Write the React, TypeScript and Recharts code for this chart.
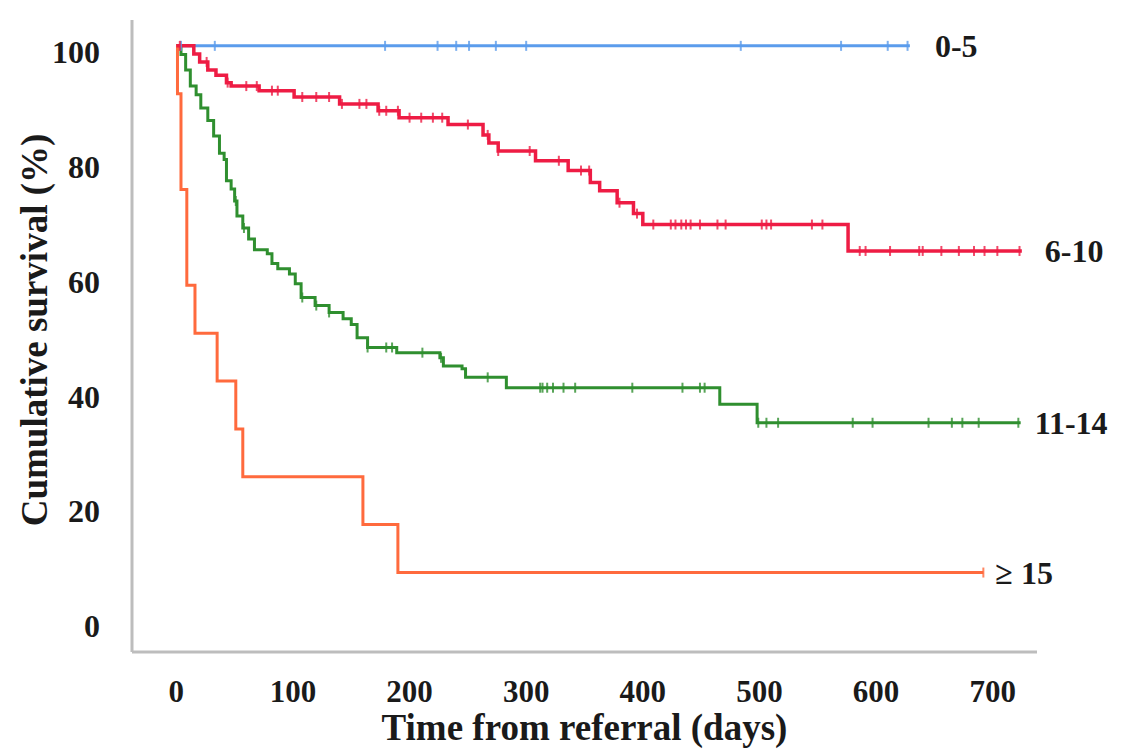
import { ComposedChart, Line, Scatter, XAxis, YAxis } from "recharts";

// Kaplan-Meier steps: [day, survival %]
const groupNames = ["0-5", "6-10", "11-14", "\u2265 15"];

const blueSteps: number[][] = [
  [0, 100],
  [629, 100],
];
const blueCensored = [4, 33, 179, 224, 240, 251, 274, 300, 484, 570, 610, 627];

const redSteps: number[][] = [
  [0, 100], [15, 98.6], [20, 97.2], [27, 95.8], [34, 94.9], [43, 93.6],
  [47, 93.0], [71, 92.2], [101, 91.1], [140, 89.9], [173, 88.7], [191, 87.5],
  [233, 86.3], [263, 84.5], [268, 83.1], [276, 81.7], [308, 80.0], [336, 78.3],
  [355, 76.2], [363, 74.8], [378, 72.7], [392, 70.8], [400, 68.9], [576, 64.3],
  [725, 64.3],
];
const redCensored = [
  3, 26, 44, 60, 69, 82, 87, 108, 120, 131, 142, 157, 163, 174, 180, 190, 200,
  210, 220, 228, 250, 267, 276, 303, 328, 347, 354, 380, 395, 409, 424, 428,
  433, 437, 441, 449, 464, 471, 502, 506, 510, 545, 554, 586, 591, 612, 637,
  640, 656, 671, 684, 693, 704, 723,
];

const greenSteps: number[][] = [
  [0, 100], [4, 98.5], [8, 95.8], [12, 93.0], [17, 91.5], [21, 89.2],
  [27, 87.0], [32, 84.3], [37, 81.3], [41, 80.2], [43, 76.5], [47, 75.1],
  [50, 73.0], [52, 70.4], [57, 68.3], [62, 66.4], [67, 64.5], [78, 63.8],
  [82, 62.1], [87, 61.2], [97, 60.3], [102, 58.6], [107, 56.2], [119, 54.8],
  [131, 53.6], [143, 52.5], [150, 51.5], [155, 49.2], [164, 47.5], [189, 46.6],
  [226, 45.7], [229, 44.3], [245, 43.8], [248, 42.3], [283, 40.5], [466, 37.6],
  [498, 34.4], [724, 34.4],
];
const greenCensored = [
  51, 58, 108, 120, 131, 164, 180, 185, 211, 227, 267, 312, 314, 318, 323, 332,
  342, 391, 434, 449, 453, 499, 506, 516, 580, 597, 645, 665, 674, 688, 722,
];

const orangeSteps: number[][] = [
  [0, 100], [1, 91.67], [4, 75], [9, 58.33], [16, 50], [35, 41.67],
  [51, 33.33], [57, 25], [160, 16.67], [190, 8.33], [692, 8.33],
];
const orangeCensored = [692];

const xTicks = [0, 100, 200, 300, 400, 500, 600, 700];
const yTicks = [0, 20, 40, 60, 80, 100];

const FONT = "'Liberation Serif', 'Times New Roman', serif";

const toPoints = (steps: number[][]) => steps.map(([t, s]) => ({ t, s }));

// censor marks sit on the curve at their time
const valueAt = (steps: number[][], t: number) => {
  let v = steps[0][1];
  for (const [ts, s] of steps) if (ts <= t) v = s;
  return v;
};
const censorPoints = (steps: number[][], times: number[]) =>
  times.map((t) => ({ t, s: valueAt(steps, t) }));

const series = [
  { name: groupNames[0], steps: blueSteps, censored: blueCensored, color: "#5b9cec", width: 3, dx: 25 },
  { name: groupNames[2], steps: greenSteps, censored: greenCensored, color: "#2f8f2f", width: 3, dx: 14 },
  { name: groupNames[3], steps: orangeSteps, censored: orangeCensored, color: "#ff6a3d", width: 3, dx: 12 },
  { name: groupNames[1], steps: redSteps, censored: redCensored, color: "#ee1c44", width: 3.5, dx: 23 },
];

const XTick = ({ x, y, payload }: any) => (
  <text x={x} y={y + 50} textAnchor="middle" fontFamily={FONT} fontWeight="bold" fontSize={31} fill="#1a1a1a">
    {payload.value}
  </text>
);

const YTick = ({ x, y, payload }: any) => (
  <text x={x - 32} y={y + 17} textAnchor="end" fontFamily={FONT} fontWeight="bold" fontSize={32} fill="#1a1a1a">
    {payload.value}
  </text>
);

export default function App() {
  return (
    <div style={{ position: "absolute", left: 0, top: 0, width: 1128, height: 749, background: "#fff" }}>
      <ComposedChart width={1128} height={749} margin={{ top: 20, right: 91, bottom: 0, left: 0 }}>
        <XAxis
          type="number"
          dataKey="t"
          domain={[-38, 738]}
          ticks={xTicks}
          height={97}
          tickLine={false}
          tickSize={0}
          tickMargin={0}
          axisLine={{ stroke: "#bdbdbd", strokeWidth: 3 }}
          tick={<XTick />}
          label={({ viewBox }: any) => (
            <text
              x={viewBox.x + viewBox.width / 2}
              y={viewBox.y + 88}
              textAnchor="middle"
              fontFamily={FONT}
              fontWeight="bold"
              fontSize={37}
              fill="#1a1a1a"
            >
              Time from referral (days)
            </text>
          )}
        />
        <YAxis
          type="number"
          dataKey="s"
          domain={[-5.5, 104.5]}
          ticks={yTicks}
          width={132}
          tickLine={false}
          tickSize={0}
          tickMargin={0}
          axisLine={{ stroke: "#bdbdbd", strokeWidth: 3 }}
          tick={<YTick />}
          label={({ viewBox }: any) => {
            const cx = viewBox.x + 34;
            const cy = viewBox.y + viewBox.height / 2 - 6;
            return (
              <text
                x={cx}
                y={cy}
                transform={`rotate(-90 ${cx} ${cy})`}
                textAnchor="middle"
                dominantBaseline="central"
                fontFamily={FONT}
                fontWeight="bold"
                fontSize={37}
                fill="#1a1a1a"
              >
                Cumulative survival (%)
              </text>
            );
          }}
        />
        {series.map((g) => (
          <Line
            key={"line-" + g.name}
            data={toPoints(g.steps)}
            dataKey="s"
            type="stepAfter"
            stroke={g.color}
            strokeWidth={g.width}
            dot={false}
            activeDot={false}
            isAnimationActive={false}
          />
        ))}
        {series.map((g) => (
          <Scatter
            key={"cens-" + g.name}
            data={censorPoints(g.steps, g.censored)}
            dataKey="s"
            isAnimationActive={false}
            shape={(p: any) => (
              <line x1={p.cx} x2={p.cx} y1={p.cy - 5} y2={p.cy + 5} stroke={g.color} strokeWidth={2} opacity={0.8} />
            )}
          />
        ))}
        {series.map((g) => (
          <Scatter
            key={"name-" + g.name}
            data={toPoints(g.steps.slice(-1))}
            dataKey="s"
            isAnimationActive={false}
            shape={(p: any) => (
              <text x={p.cx + g.dx} y={p.cy + 11} fontFamily={FONT} fontWeight="bold" fontSize={32} fill="#1a1a1a">
                {g.name}
              </text>
            )}
          />
        ))}
      </ComposedChart>
    </div>
  );
}
